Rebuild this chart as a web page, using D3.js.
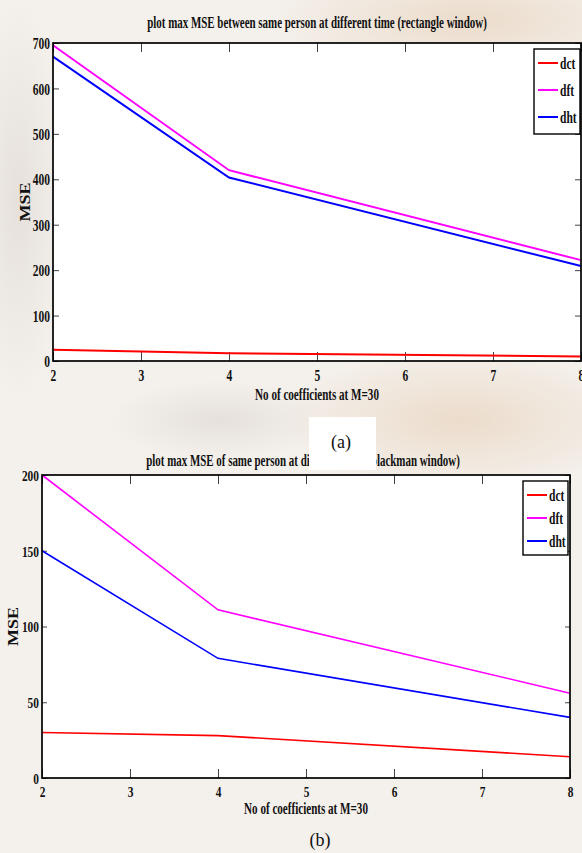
<!DOCTYPE html>
<html><head><meta charset="utf-8">
<script src="https://cdn.jsdelivr.net/npm/d3@7"></script>
<style>body{margin:0;background:#f2ece6}svg{display:block}</style>
</head><body><svg id="c" width="582" height="853"></svg>
<script>
// ---------- data ----------
const xValues = [2, 4, 8];
const xTicks = [2, 3, 4, 5, 6, 7, 8];
const seriesNames = ["dct", "dft", "dht"];
const seriesColors = ["#ff0000", "#ff00ff", "#0000ff"];
const rectDct = [25, 17, 10];
const rectDft = [695, 420, 222];
const rectDht = [670, 404, 209];
const rectYTicks = [0, 100, 200, 300, 400, 500, 600, 700];
const blackDct = [30, 28, 14];
const blackDft = [200, 111, 56];
const blackDht = [150, 79, 40];
const blackYTicks = [0, 50, 100, 150, 200];
const titleA = "plot max MSE between same person at different time (rectangle window)";
const titleB = "plot max MSE of same person at different time (blackman window)";
const xLabelText = "No of coefficients at M=30";
const yLabelText = "MSE";
const captionA = "(a)";
const captionB = "(b)";

const FONT = "'Liberation Serif','Times New Roman',serif";
const svg = d3.select("#c");

// faint background wash (watermark-like)
const defs = svg.append("defs");
const g1 = defs.append("radialGradient").attr("id", "wash1");
g1.append("stop").attr("offset", "0%").attr("stop-color", "#e8d3bd").attr("stop-opacity", 0.7);
g1.append("stop").attr("offset", "100%").attr("stop-color", "#e8d3bd").attr("stop-opacity", 0);
const g2 = defs.append("radialGradient").attr("id", "wash2");
g2.append("stop").attr("offset", "0%").attr("stop-color", "#dcd6d0").attr("stop-opacity", 0.6);
g2.append("stop").attr("offset", "100%").attr("stop-color", "#dcd6d0").attr("stop-opacity", 0);
svg.append("rect").attr("width", 582).attr("height", 853).attr("fill", "#f4f0eb");
svg.append("ellipse").attr("cx", 470).attr("cy", 20).attr("rx", 200).attr("ry", 60).attr("fill", "url(#wash1)");
svg.append("ellipse").attr("cx", 460).attr("cy", 420).attr("rx", 180).attr("ry", 70).attr("fill", "url(#wash1)");
svg.append("ellipse").attr("cx", 18).attr("cy", 200).attr("rx", 50).attr("ry", 200).attr("fill", "url(#wash2)");
svg.append("ellipse").attr("cx", 220).attr("cy", 420).attr("rx", 110).attr("ry", 40).attr("fill", "url(#wash2)");

// horizontally condensed text placed with a transform
function condText(parent, x, y, str, opts) {
  const t = parent.append("text").attr("x", 0).attr("y", 0)
    .attr("text-anchor", opts.anchor || "start").attr("dy", opts.dy || null)
    .attr("font-family", FONT).attr("font-weight", opts.weight || "bold")
    .attr("font-size", opts.size).attr("fill", "#111").text(str);
  let k = opts.k || 1;
  if (opts.width) k = opts.width / t.node().getComputedTextLength();
  t.attr("transform", `translate(${x},${y}) scale(${k},1)`);
  return t;
}

function panel(cfg) {
  const x = d3.scaleLinear().domain([2, 8]).range([cfg.left, cfg.right]);
  const y = d3.scaleLinear().domain([0, cfg.yMax]).range([cfg.bottom, cfg.top]);
  const g = svg.append("g");
  g.append("rect").attr("x", cfg.left).attr("y", cfg.top)
    .attr("width", cfg.right - cfg.left).attr("height", cfg.bottom - cfg.top).attr("fill", "#fff");

  // title
  condText(g, cfg.titleX, cfg.titleY, cfg.title, { anchor: "middle", size: 16, width: cfg.titleW });

  // axes
  const axB = g.append("g").attr("transform", `translate(0,${cfg.bottom})`)
    .call(d3.axisBottom(x).tickValues(xTicks).tickSize(-cfg.xTick).tickPadding(cfg.xPad).tickFormat(d3.format("d")));
  const axT = g.append("g").attr("transform", `translate(0,${cfg.top})`)
    .call(d3.axisTop(x).tickValues(xTicks).tickSize(-cfg.xTick).tickFormat(""));
  const axL = g.append("g").attr("transform", `translate(${cfg.left},0)`)
    .call(d3.axisLeft(y).tickValues(cfg.yTicks).tickSize(-cfg.yTick).tickPadding(3).tickFormat(d3.format("d")));
  const axR = g.append("g").attr("transform", `translate(${cfg.right},0)`)
    .call(d3.axisRight(y).tickValues(cfg.yTicks).tickSize(-cfg.yTick).tickFormat(""));
  [axB, axT, axL, axR].forEach(a => {
    a.select(".domain").remove();
    a.selectAll(".tick line").attr("stroke", "#444").attr("stroke-width", 1);
  });
  [axB, axL].forEach(a => {
    a.selectAll("text").attr("font-family", FONT).attr("font-weight", "bold")
      .attr("font-size", cfg.tickFont).attr("fill", "#111")
      .attr("transform", `scale(${cfg.tickK},1)`);
  });
  axL.selectAll("text").attr("dy", "0.35em").attr("x", -3 / cfg.tickK);

  // lines
  const line = d3.line().x((d, i) => x(xValues[i])).y(d => y(d));
  cfg.series.forEach((s, i) => {
    g.append("path").attr("d", line(s)).attr("fill", "none")
      .attr("stroke", seriesColors[i]).attr("stroke-width", cfg.lineW);
  });

  // frame
  g.append("rect").attr("x", cfg.left).attr("y", cfg.top)
    .attr("width", cfg.right - cfg.left).attr("height", cfg.bottom - cfg.top)
    .attr("fill", "none").attr("stroke", "#000").attr("stroke-width", 1.7);

  // x label
  condText(g, (cfg.left + cfg.right) / 2, cfg.bottom + cfg.xlabOff, xLabelText,
    { anchor: "middle", size: 16, width: 124 });

  // y label
  g.append("text")
    .attr("transform", `translate(${cfg.ylabX},${(cfg.top + cfg.bottom) / 2}) rotate(-90) scale(1,0.8)`)
    .attr("text-anchor", "middle").attr("font-family", FONT).attr("font-weight", "bold")
    .attr("font-size", cfg.ylabFont).attr("fill", "#111").text(yLabelText);

  // legend
  const L = cfg.legend;
  const lg = g.append("g");
  lg.append("rect").attr("x", L.x).attr("y", L.y).attr("width", L.w).attr("height", L.h)
    .attr("fill", "#fff").attr("stroke", "#000").attr("stroke-width", 1.4);
  seriesNames.forEach((n, i) => {
    const yy = L.y + L.first + i * L.step;
    lg.append("line").attr("x1", L.x + 4).attr("x2", L.x + 24).attr("y1", yy).attr("y2", yy)
      .attr("stroke", seriesColors[i]).attr("stroke-width", 2);
    condText(lg, L.x + 26, yy, n, { size: 17, k: 0.68, dy: "0.35em" });
  });
}

panel({
  left: 53, right: 581, top: 43, bottom: 361, yMax: 700, yTicks: rectYTicks,
  series: [rectDct, rectDft, rectDht], lineW: 2,
  title: titleA, titleX: 317, titleY: 28, titleW: 340,
  xTick: 9, yTick: 6, xPad: 9, tickFont: 16, tickK: 0.72,
  xlabOff: 39, ylabX: 30, ylabFont: 18,
  legend: { x: 534, y: 49, w: 46, h: 85, first: 14, step: 27 }
});

panel({
  left: 42, right: 570, top: 475, bottom: 778, yMax: 200, yTicks: blackYTicks,
  series: [blackDct, blackDft, blackDht], lineW: 1.6,
  title: titleB, titleX: 303, titleY: 466, titleW: 314,
  xTick: 9, yTick: 5, xPad: 8, tickFont: 15, tickK: 0.76,
  xlabOff: 36, ylabX: 18, ylabFont: 18,
  legend: { x: 523, y: 481, w: 45, h: 74, first: 14, step: 23 }
});

// caption (a) box that overlaps the second title, caption (b)
svg.append("rect").attr("x", 309).attr("y", 417).attr("width", 67).attr("height", 53).attr("fill", "#fff");
svg.append("text").attr("x", 341).attr("y", 448).attr("text-anchor", "middle")
  .attr("font-family", FONT).attr("font-size", 18).attr("fill", "#111").text(captionA);
svg.append("text").attr("x", 320).attr("y", 846).attr("text-anchor", "middle")
  .attr("font-family", FONT).attr("font-size", 18).attr("fill", "#111").text(captionB);
</script></body></html>
